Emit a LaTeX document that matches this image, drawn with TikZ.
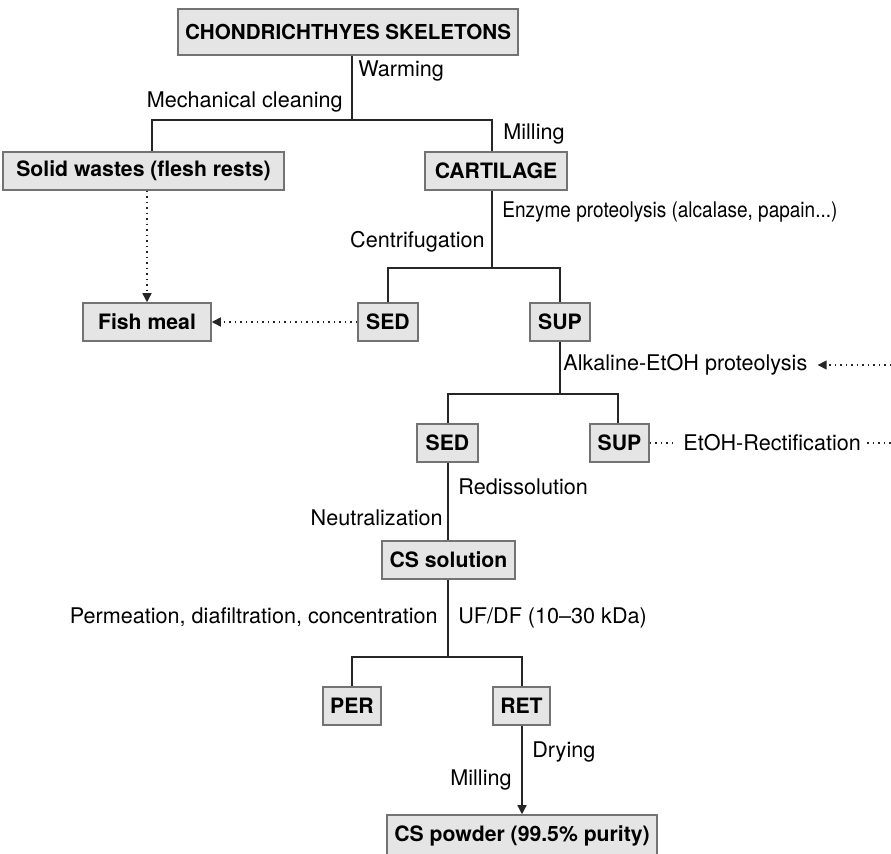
\documentclass[tikz,border=0pt]{standalone}
\usepackage{fontspec}
\setmainfont{TeX Gyre Heros}
\usetikzlibrary{arrows.meta}

\definecolor{boxfill}{gray}{0.90}
\definecolor{boxline}{gray}{0.45}
\definecolor{linecol}{gray}{0.15}

\tikzset{
  stage/.style={draw=boxline, line width=0.75pt, fill=boxfill, font=\fontsize{10.6}{12.5}\selectfont\bfseries, inner sep=0pt, minimum height=19pt},
  flow/.style={draw=linecol, line width=0.65pt},
  side/.style={draw=linecol, line width=0.75pt, dotted},
  headed/.style={-{Triangle[length=4.5pt,width=4.5pt]}},
  tag/.style={inner sep=0pt},
}

\begin{document}
\begin{tikzpicture}[x=0.5pt, y=-0.5pt, font=\fontsize{10.8}{12.5}\selectfont]
            \clip (0,0) rectangle (891,854);

            \node[stage, minimum width=170pt, minimum height=23pt, font=\fontsize{10.3}{12.5}\selectfont\bfseries] (skel) at (348,32) {CHONDRICHTHYES SKELETONS};
            \node[stage, minimum width=140.5pt] (waste) at (143.5,171) {Solid wastes (flesh rests)};
            \node[stage, minimum width=71pt] (cart) at (496,171) {CARTILAGE};
            \node[stage, minimum width=64pt] (meal) at (147,322) {Fish meal};
            \node[stage, minimum width=30pt] (sedA) at (388,322) {SED};
            \node[stage, minimum width=30pt] (supA) at (560,322) {SUP};
            \node[stage, minimum width=30.5pt] (sedB) at (447.5,443) {SED};
            \node[stage, minimum width=29.5pt] (supB) at (619.5,443) {SUP};
            \node[stage, minimum width=66.5pt] (sol) at (448.5,560) {CS solution};
            \node[stage, minimum width=29pt] (per) at (352,706) {PER};
            \node[stage, minimum width=28.5pt] (ret) at (521.5,706) {RET};
            \node[stage, minimum width=135pt, minimum height=21pt] (powder) at (522,836) {CS powder (99.5\% purity)};

            \coordinate (j1) at (352,120);
            \coordinate (j1l) at (152,120);
            \coordinate (j1r) at (492,120);
            \coordinate (j2) at (492,268);
            \coordinate (j3) at (560,394);
            \coordinate (j4) at (448,657);
            \coordinate (feedA) at (891,365);
            \coordinate (feedB) at (891,443);

            \draw[flow] (skel.south -| j1) -- (j1);
            \draw[flow] (waste.north -| j1l) -- (j1l) -- (j1r) -- (cart.north -| j1r);
            \draw[flow] (cart.south -| j2) -- (j2);
            \draw[flow] (sedA.north) |- (j2) -| (supA.north);
            \draw[flow] (supA.south) -- (j3);
            \draw[flow] (sedB.north -| 448,0) |- (j3) -| (supB.north -| 618,0);
            \draw[flow] (sedB.south -| 448,0) -- (sol.north -| 448,0);
            \draw[flow] (sol.south -| j4) -- (j4);
            \draw[flow] (per.north) |- (j4) -| (ret.north -| 522,0);
            \draw[flow, headed] (ret.south -| 522,0) -- (powder.north -| 522,0);

            \draw[side, headed] (waste.south -| meal.north) -- (meal.north);
            \draw[side, headed] (sedA.west) -- (meal.east);

            \node[tag, anchor=west] at (358,71) {Warming};
            \node[tag, anchor=east] at (343,102) {Mechanical cleaning};
            \node[tag, anchor=west] at (503,134) {Milling};
            \node[tag, anchor=west, font=\fontsize{10.8}{12.5}\selectfont\addfontfeature{FakeStretch=0.88}] at (502,212) {Enzyme proteolysis (alcalase, papain...)};
            \node[tag, anchor=east] at (485,242) {Centrifugation};
            \node[tag, anchor=west] (alk) at (563,365) {Alkaline-EtOH proteolysis};
            \node[tag, anchor=west] (rect) at (683,443) {EtOH-Rectification};
            \node[tag, anchor=west] at (458,487) {Redissolution};
            \node[tag, anchor=east] at (443,518) {Neutralization};
            \node[tag, anchor=east] at (438,617) {Permeation, diafiltration, concentration};
            \node[tag, anchor=west] at (458,618) {UF/DF (10--30 kDa)};
            \node[tag, anchor=west] at (532,752) {Drying};
            \node[tag, anchor=east] at (512,780) {Milling};

            \draw[side, headed, shorten >=5pt] (feedA) -- (alk.east);
            \draw[side, shorten >=3pt] (supB.east) -- (rect.west);
            \draw[side, shorten <=3pt] (rect.east) -- (feedB);
        \end{tikzpicture}
\end{document}
